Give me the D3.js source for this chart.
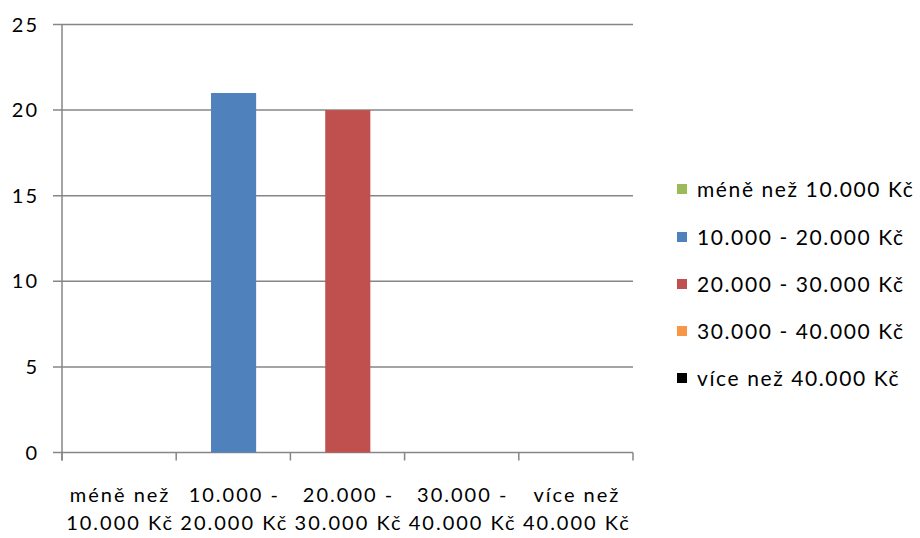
<!DOCTYPE html>
<html><head><meta charset="utf-8">
<script src="https://cdn.jsdelivr.net/npm/d3@7"></script>
<style>body{margin:0;background:#fff}svg{display:block}text{font-family:Lato,"Open Sans",sans-serif;fill:#000}</style>
</head><body>
<svg id="c" width="920" height="538"></svg>
<script>
const categories = [["méně než","10.000 Kč"],["10.000 -","20.000 Kč"],["20.000 -","30.000 Kč"],["30.000 -","40.000 Kč"],["více než","40.000 Kč"]];
const seriesNames = ["méně než 10.000 Kč","10.000 - 20.000 Kč","20.000 - 30.000 Kč","30.000 - 40.000 Kč","více než 40.000 Kč"];
const values = [0, 21, 20, 0, 0];
const colors = ["#9BBB59","#4F81BD","#C0504D","#F79646","#000000"];
const yTicks = [0,5,10,15,20,25];

const svg = d3.select("#c");
const L=62, R=633, T=24.5, B=452.5;
const x = d3.scaleBand().domain(d3.range(categories.length)).range([L,R]);
const y = d3.scaleLinear().domain([0,25]).range([B,T]);

svg.append("g").selectAll("line").data(yTicks).join("line")
  .attr("x1",L-9).attr("x2",R).attr("y1",d=>y(d)).attr("y2",d=>y(d))
  .attr("stroke","#868686").attr("stroke-width",1.5);
svg.append("line").attr("x1",L).attr("x2",L).attr("y1",T).attr("y2",B+8)
  .attr("stroke","#868686").attr("stroke-width",1.5);
const bounds = d3.range(categories.length+1).map(i=> i<categories.length? x(i): R);
svg.append("g").selectAll("line").data(bounds).join("line")
  .attr("x1",d=>d).attr("x2",d=>d).attr("y1",B).attr("y2",B+8)
  .attr("stroke","#868686").attr("stroke-width",1.5);
svg.append("g").selectAll("text").data(yTicks).join("text")
  .attr("x",39).attr("y",d=>y(d)).attr("dy","0.35em").attr("text-anchor","end")
  .attr("font-size",20).attr("letter-spacing",2).text(d=>d);
const bw = x.bandwidth();
svg.append("g").selectAll("rect").data(values).join("rect")
  .attr("x",(d,i)=>x(i)+bw*0.305).attr("width",bw*0.395)
  .attr("y",d=>y(d)).attr("height",d=>B-y(d)).attr("fill",(d,i)=>colors[i]);
const xl = svg.append("g").selectAll("text").data(categories).join("text")
  .attr("text-anchor","middle").attr("font-size",20).attr("letter-spacing",2);
xl.append("tspan").attr("x",(d,i)=>x(i)+bw/2+1).attr("y",502).text(d=>d[0]);
xl.append("tspan").attr("x",(d,i)=>x(i)+bw/2+1).attr("y",530).text(d=>d[1]);
const ly = [189,237,284,331,378];
const lg = svg.append("g").selectAll("g").data(seriesNames).join("g")
  .attr("transform",(d,i)=>`translate(677,${ly[i]})`);
lg.append("rect").attr("x",0).attr("y",-5).attr("width",10).attr("height",10).attr("fill",(d,i)=>colors[i]);
lg.append("text").attr("x",20).attr("dy","0.36em").attr("font-size",21).attr("letter-spacing",1.6).text(d=>d);
</script>
</body></html>
